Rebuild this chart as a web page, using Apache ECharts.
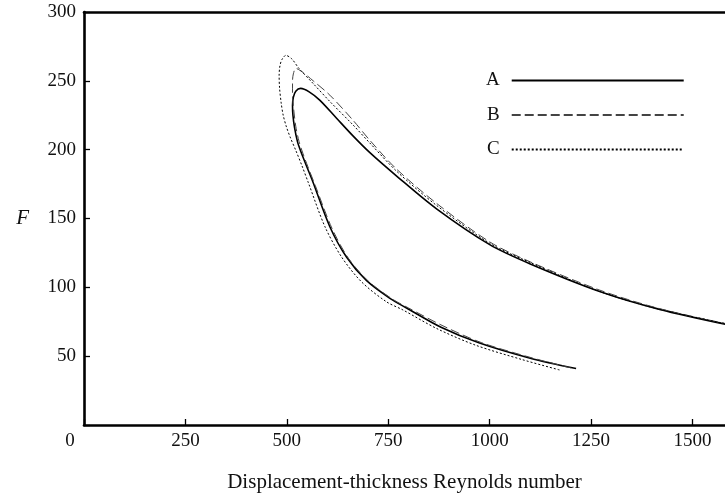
<!DOCTYPE html>
<html>
<head>
<meta charset="utf-8">
<script src="https://cdn.jsdelivr.net/npm/echarts@6/dist/echarts.min.js"></script>
<style>html,body{margin:0;padding:0;background:#fff;}#c{width:725px;height:499px;}</style>
</head>
<body>
<div id="c"></div>
<script>
// ---- data ----
const seriesNames = ['A', 'B', 'C'];
const reA = [1213, 1100, 975, 880, 795, 754, 696, 647, 606, 565, 548, 534, 526, 519, 515, 514, 516, 522, 534, 555, 581, 622, 663, 704, 770, 869, 1000, 1100, 1271, 1419, 1600];
const fA  = [41, 48.5, 59.5, 71, 85, 92, 105, 122, 144, 176, 188.5, 199, 206, 216, 225, 232, 238, 242.5, 244.5, 242, 236, 223, 210, 198, 181, 157, 131, 117, 97, 84, 72];
const reB = [1200, 1105, 980, 885, 800, 760, 701, 652, 611, 570, 552, 540, 530, 522, 517, 514, 514, 516, 522, 540, 565, 606, 663, 704, 770, 869, 1000, 1100, 1271, 1419, 1600];
const fB  = [41.5, 48.7, 59.8, 72, 85, 91.5, 104.5, 121, 143, 174, 187.5, 197, 206, 217, 229, 240, 250, 255, 259, 256, 250, 239.6, 221.4, 207, 186, 161, 133, 118.5, 98, 84.5, 72.5];
const reC = [1172, 1080, 965, 870, 786, 745, 684, 635, 594, 553, 537, 522, 509, 499, 491, 486, 482, 481, 483, 488, 497.5, 512, 530, 565, 606, 663, 704, 770, 869, 1000, 1100, 1271, 1419, 1600];
const fC  = [40, 47.5, 58, 70, 83.6, 89.6, 104, 122, 144, 176, 188.5, 199.5, 208.5, 216.5, 225, 234, 245, 254, 261, 265.5, 268.5, 266, 259, 248, 235, 218, 205, 184.5, 159.5, 132, 118, 97, 84, 72.5];
const xTickLabels = [0, 250, 500, 750, 1000, 1250, 1500];
const yTickLabels = [50, 100, 150, 200, 250, 300];

const zip = (xs, ys) => xs.map((x, i) => [x, ys[i]]);
const font = '"Liberation Serif", "Times New Roman", serif';

const chart = echarts.init(document.getElementById('c'), null, {renderer: 'canvas'});
const axisLine = {show: true, lineStyle: {color: '#000', width: 2.6}};
chart.setOption({
  backgroundColor: '#fff',
  animation: false,
  grid: {left: 84, right: 0, top: 12, bottom: 74, containLabel: false},
  legend: {
    orient: 'vertical', left: 481, top: 66, align: 'right',
    itemWidth: 172, itemHeight: 19, itemGap: 15.5,
    data: seriesNames,
    itemStyle: {opacity: 0},
    textStyle: {fontFamily: font, fontSize: 19, color: '#111', padding: [0, 7, 0, 0]}
  },
  xAxis: [{
    type: 'value', min: 0, max: 1580, interval: 250, position: 'bottom',
    name: 'Displacement-thickness Reynolds number', nameLocation: 'middle', nameGap: 47,
    nameTextStyle: {fontFamily: font, fontSize: 21, color: '#111'},
    axisLine: axisLine,
    axisTick: {show: true, inside: true, length: 6, lineStyle: {color: '#000', width: 1.3}},
    splitLine: {show: false},
    axisLabel: {
      fontFamily: font, fontSize: 19, color: '#111', margin: 7, showMaxLabel: false,
      formatter: v => xTickLabels.includes(v) ? (v === 0 ? '{o|0}' : String(v)) : '',
      rich: {o: {fontFamily: font, fontSize: 19, color: '#111', padding: [0, 28, 0, 0]}}
    }
  }, {
    type: 'value', min: 0, max: 1580, position: 'top',
    axisLine: axisLine, axisTick: {show: false}, axisLabel: {show: false}, splitLine: {show: false}
  }],
  yAxis: {
    type: 'value', min: 0, max: 300, interval: 50,
    name: 'F', nameLocation: 'middle', nameRotate: 0, nameGap: 55,
    nameTextStyle: {fontFamily: font, fontSize: 21, fontStyle: 'italic', color: '#111'},
    axisLine: axisLine,
    axisTick: {show: true, inside: true, length: 6, lineStyle: {color: '#000', width: 1.3}},
    splitLine: {show: false},
    axisLabel: {
      fontFamily: font, fontSize: 19, color: '#111', margin: 8,
      formatter: v => yTickLabels.includes(v) ? String(v) : ''
    }
  },
  series: [
    {name: 'A', type: 'line', xAxisIndex: 0, data: zip(reA, fA), smooth: 0.3, symbol: 'none', clip: true,
     lineStyle: {color: '#000', width: 1.6, type: 'solid'}, itemStyle: {color: '#000'}},
    {name: 'B', type: 'line', xAxisIndex: 0, data: zip(reB, fB), smooth: 0.3, symbol: 'none', clip: true,
     lineStyle: {color: '#444', width: 1, type: [9, 4]}, itemStyle: {color: '#444'}},
    {name: 'C', type: 'line', xAxisIndex: 0, data: zip(reC, fC), smooth: 0.3, symbol: 'none', clip: true,
     lineStyle: {color: '#000', width: 1, type: [2, 2]}, itemStyle: {color: '#000'}}
  ]
});
</script>
</body>
</html>
